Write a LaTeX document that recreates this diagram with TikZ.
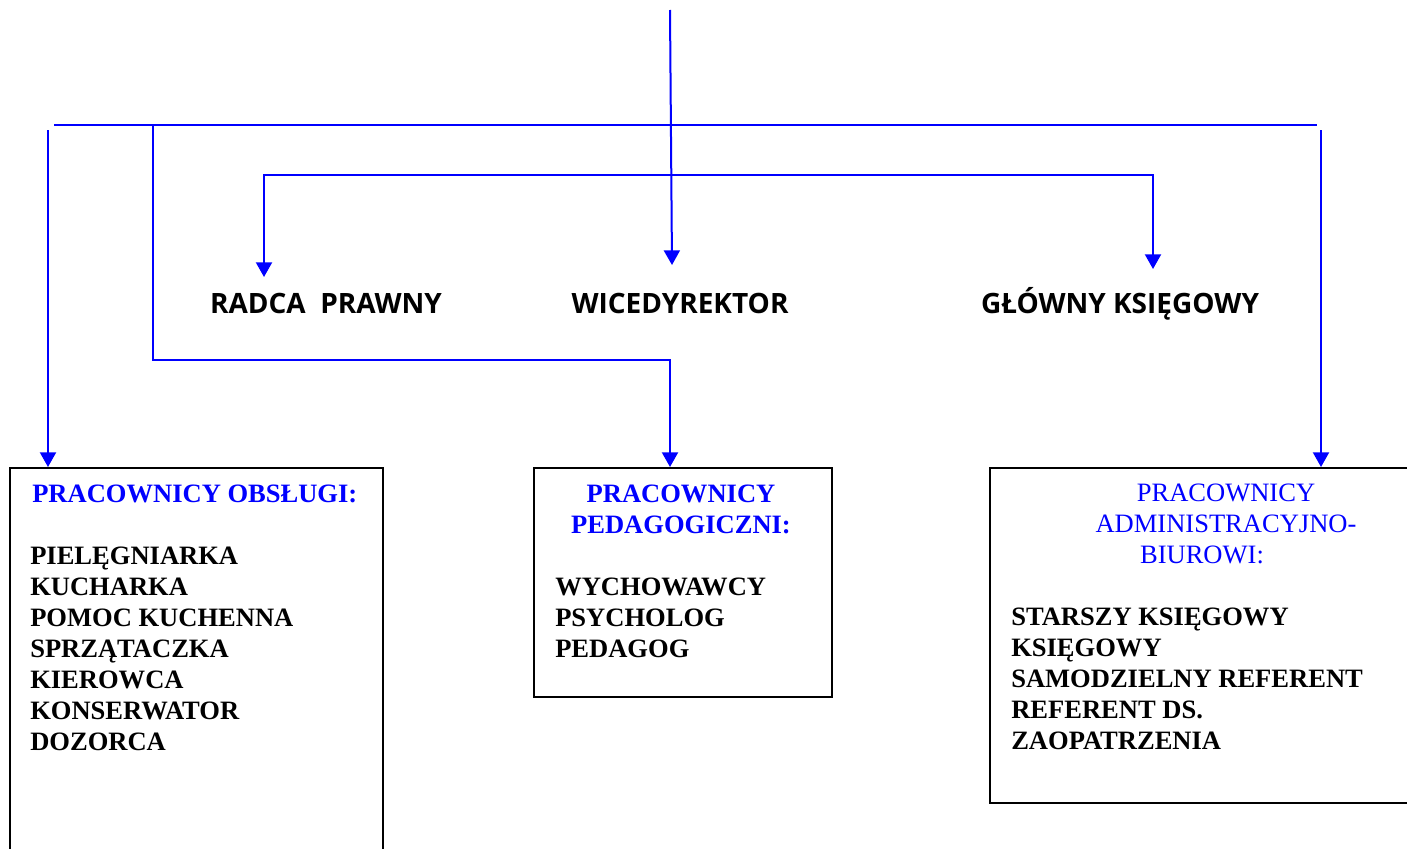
\documentclass[tikz,border=0pt]{standalone}
\usepackage{fontspec}
\setmainfont{Liberation Serif}
\newfontfamily\etykieta{Open Sans}
\usetikzlibrary{arrows.meta}
\definecolor{niebieski}{RGB}{0,0,255}
\newcommand{\grot}{Triangle[length=11pt,width=12pt]}
\newcommand{\duzy}{\fontsize{19.9}{23.25}\selectfont}
\tikzset{
  polacz/.style={draw=niebieski, line width=1.5pt},
  strz/.style={polacz, -{\grot}},
  ramka/.style={draw, line width=1.2pt, anchor=north west, inner sep=0pt},
  stanowisko/.style={anchor=base, inner sep=0pt, font=\etykieta\bfseries\fontsize{21}{25}\selectfont},
  lista/.style={anchor=north west, align=left, inner sep=0pt, font=\bfseries\duzy},
  tytul/.style={text=niebieski, align=center, inner sep=0pt, font=\duzy}
}

\begin{document}
\begin{tikzpicture}[x=0.75pt, y=-0.75pt]
                \useasboundingbox (0,0) rectangle (1407,849);

                \node[stanowisko] (radca) at (326,313) {RADCA\ \ PRAWNY};
                \node[stanowisko] (wice) at (680,313) {WICEDYREKTOR};
                \node[stanowisko] (ksieg) at (1120,313) {GŁÓWNY KSIĘGOWY};

                \node[ramka, minimum width=279.75pt, minimum height=300pt] (obsl) at (9,467) {};
                \node[ramka, minimum width=223.5pt, minimum height=171.75pt] (pedag) at (533,467) {};
                \node[ramka, minimum width=323.25pt, minimum height=251.25pt] (admin) at (989,467) {};

                \node[tytul, anchor=north west, font=\bfseries\duzy] (obslT) at (32,485) {PRACOWNICY OBSŁUGI:};
                \node[lista] (obslL) at (30,547) {PIELĘGNIARKA\\KUCHARKA\\POMOC KUCHENNA\\SPRZĄTACZKA\\KIEROWCA\\KONSERWATOR\\DOZORCA};

                \node[tytul, anchor=north, font=\bfseries\duzy] (pedagT) at (681,485) {PRACOWNICY\\PEDAGOGICZNI:};
                \node[lista] (pedagL) at (555,578) {WYCHOWAWCY\\PSYCHOLOG\\PEDAGOG};

                \node[tytul, anchor=north] (adminT) at (1226,484) {PRACOWNICY\\ADMINISTRACYJNO-\\\hspace*{-36pt}BIUROWI:};
                \node[lista] (adminL) at (1011,608) {STARSZY KSIĘGOWY\\KSIĘGOWY\\SAMODZIELNY REFERENT\\REFERENT DS.\\ZAOPATRZENIA};

                \coordinate (start) at (670,10);
                \coordinate (wiceIn) at (672,265);
                \coordinate (szyna1L) at (54,125);
                \coordinate (szyna1P) at (1317,125);
                \coordinate (odn) at (153,125);
                \coordinate (zal) at (400,360);
                \coordinate (szyna2) at (700,175);
                \coordinate (radcaIn) at (264,277);
                \coordinate (ksiegIn) at (1153,269);
                \coordinate (lewa) at (48,130);
                \coordinate (prawa) at (1321,130);

                \draw[polacz] (szyna1L) -- (szyna1P);
                \draw[strz] (start) -- (wiceIn);
                \draw[polacz, {\grot}-{\grot}] (radcaIn) |- (szyna2) -| (ksiegIn);
                \draw[strz] (odn) |- (zal) -| (pedag.north -| start);
                \draw[strz] (lewa) -- (obsl.north -| lewa);
                \draw[strz] (prawa) -- (admin.north -| prawa);
            \end{tikzpicture}
\end{document}
